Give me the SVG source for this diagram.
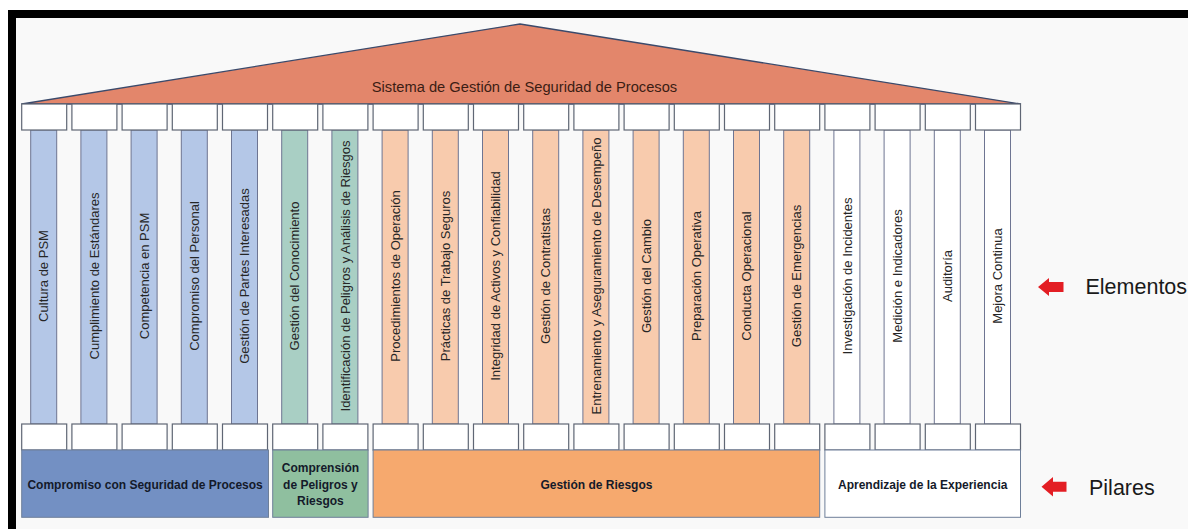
<svg xmlns="http://www.w3.org/2000/svg" width="1188" height="529" viewBox="0 0 1188 529">
<style>
.cap{fill:#ffffff;stroke:#5f6674;stroke-width:1.2}
.shaft{stroke:#6e7592;stroke-width:1}
.sb{fill:#b4c7e7}.sg{fill:#a9cfc4}.so{fill:#f8cbad}.sw{fill:#ffffff}
.ct{font-family:"Liberation Sans",Arial,sans-serif;font-size:13px;fill:#262626;text-anchor:middle}
.base{stroke:#6e7f99;stroke-width:1}
.bt{font-family:"Liberation Sans",Arial,sans-serif;font-size:12px;font-weight:bold;fill:#141a2a;text-anchor:middle}
.lab{font-family:"Liberation Sans",Arial,sans-serif;font-size:21.5px;fill:#1a1a1a}
.arr{fill:#e31e24}
</style>
<rect x="0" y="0" width="1188" height="529" fill="#ffffff"/>
<rect x="16" y="18" width="1172" height="511" fill="#f9f9f9"/>
<rect x="8" y="10" width="1180" height="8" fill="#000000"/>
<rect x="8" y="10" width="8" height="519" fill="#000000"/>

<g id="roof">
<polygon points="21.7,104 520,24 1020.5,104" fill="#e3866b" stroke="#3b4a6b" stroke-width="1.3" stroke-linejoin="round"/>
<text x="524.5" y="91.5" font-family="'Liberation Sans',Arial,sans-serif" font-size="14.7" fill="#3b1d14" text-anchor="middle">Sistema de Gestión de Seguridad de Procesos</text>
</g>

<g id="col-0"><rect class="shaft sb" x="30.7" y="130" width="26" height="294"/><rect class="cap" x="21.7" y="104" width="45" height="26"/><rect class="cap" x="21.7" y="424" width="45" height="26"/><text class="ct" transform="translate(48.4,276) rotate(-90)">Cultura de PSM</text></g>
<g id="col-1"><rect class="shaft sb" x="80.9" y="130" width="26" height="294"/><rect class="cap" x="71.9" y="104" width="45" height="26"/><rect class="cap" x="71.9" y="424" width="45" height="26"/><text class="ct" transform="translate(98.6,276) rotate(-90)">Cumplimiento de Estándares</text></g>
<g id="col-2"><rect class="shaft sb" x="131.1" y="130" width="26" height="294"/><rect class="cap" x="122.1" y="104" width="45" height="26"/><rect class="cap" x="122.1" y="424" width="45" height="26"/><text class="ct" transform="translate(148.8,276) rotate(-90)">Competencia en PSM</text></g>
<g id="col-3"><rect class="shaft sb" x="181.3" y="130" width="26" height="294"/><rect class="cap" x="172.3" y="104" width="45" height="26"/><rect class="cap" x="172.3" y="424" width="45" height="26"/><text class="ct" transform="translate(199,276) rotate(-90)">Compromiso del Personal</text></g>
<g id="col-4"><rect class="shaft sb" x="231.5" y="130" width="26" height="294"/><rect class="cap" x="222.5" y="104" width="45" height="26"/><rect class="cap" x="222.5" y="424" width="45" height="26"/><text class="ct" transform="translate(249.2,276) rotate(-90)">Gestión de Partes Interesadas</text></g>
<g id="col-5"><rect class="shaft sg" x="281.7" y="130" width="26" height="294"/><rect class="cap" x="272.7" y="104" width="45" height="26"/><rect class="cap" x="272.7" y="424" width="45" height="26"/><text class="ct" transform="translate(299.4,276) rotate(-90)">Gestión del Conocimiento</text></g>
<g id="col-6"><rect class="shaft sg" x="331.9" y="130" width="26" height="294"/><rect class="cap" x="322.9" y="104" width="45" height="26"/><rect class="cap" x="322.9" y="424" width="45" height="26"/><text class="ct" transform="translate(349.6,276) rotate(-90)">Identificación de Peligros y Análisis de Riesgos</text></g>
<g id="col-7"><rect class="shaft so" x="382.1" y="130" width="26" height="294"/><rect class="cap" x="373.1" y="104" width="45" height="26"/><rect class="cap" x="373.1" y="424" width="45" height="26"/><text class="ct" transform="translate(399.8,276) rotate(-90)">Procedimientos de Operación</text></g>
<g id="col-8"><rect class="shaft so" x="432.3" y="130" width="26" height="294"/><rect class="cap" x="423.3" y="104" width="45" height="26"/><rect class="cap" x="423.3" y="424" width="45" height="26"/><text class="ct" transform="translate(450,276) rotate(-90)">Prácticas de Trabajo Seguros</text></g>
<g id="col-9"><rect class="shaft so" x="482.5" y="130" width="26" height="294"/><rect class="cap" x="473.5" y="104" width="45" height="26"/><rect class="cap" x="473.5" y="424" width="45" height="26"/><text class="ct" transform="translate(500.2,276) rotate(-90)">Integridad de Activos y Confiabilidad</text></g>
<g id="col-10"><rect class="shaft so" x="532.7" y="130" width="26" height="294"/><rect class="cap" x="523.7" y="104" width="45" height="26"/><rect class="cap" x="523.7" y="424" width="45" height="26"/><text class="ct" transform="translate(550.4,276) rotate(-90)">Gestión de Contratistas</text></g>
<g id="col-11"><rect class="shaft so" x="582.9" y="130" width="26" height="294"/><rect class="cap" x="573.9" y="104" width="45" height="26"/><rect class="cap" x="573.9" y="424" width="45" height="26"/><text class="ct" transform="translate(600.6,276) rotate(-90)">Entrenamiento y Aseguramiento de Desempeño</text></g>
<g id="col-12"><rect class="shaft so" x="633.1" y="130" width="26" height="294"/><rect class="cap" x="624.1" y="104" width="45" height="26"/><rect class="cap" x="624.1" y="424" width="45" height="26"/><text class="ct" transform="translate(650.8,276) rotate(-90)">Gestión del Cambio</text></g>
<g id="col-13"><rect class="shaft so" x="683.3" y="130" width="26" height="294"/><rect class="cap" x="674.3" y="104" width="45" height="26"/><rect class="cap" x="674.3" y="424" width="45" height="26"/><text class="ct" transform="translate(701,276) rotate(-90)">Preparación Operativa</text></g>
<g id="col-14"><rect class="shaft so" x="733.5" y="130" width="26" height="294"/><rect class="cap" x="724.5" y="104" width="45" height="26"/><rect class="cap" x="724.5" y="424" width="45" height="26"/><text class="ct" transform="translate(751.2,276) rotate(-90)">Conducta Operacional</text></g>
<g id="col-15"><rect class="shaft so" x="783.7" y="130" width="26" height="294"/><rect class="cap" x="774.7" y="104" width="45" height="26"/><rect class="cap" x="774.7" y="424" width="45" height="26"/><text class="ct" transform="translate(801.4,276) rotate(-90)">Gestión de Emergencias</text></g>
<g id="col-16"><rect class="shaft sw" x="833.9" y="130" width="26" height="294"/><rect class="cap" x="824.9" y="104" width="45" height="26"/><rect class="cap" x="824.9" y="424" width="45" height="26"/><text class="ct" transform="translate(851.6,276) rotate(-90)">Investigación de Incidentes</text></g>
<g id="col-17"><rect class="shaft sw" x="884.1" y="130" width="26" height="294"/><rect class="cap" x="875.1" y="104" width="45" height="26"/><rect class="cap" x="875.1" y="424" width="45" height="26"/><text class="ct" transform="translate(901.8,276) rotate(-90)">Medición e Indicadores</text></g>
<g id="col-18"><rect class="shaft sw" x="934.3" y="130" width="26" height="294"/><rect class="cap" x="925.3" y="104" width="45" height="26"/><rect class="cap" x="925.3" y="424" width="45" height="26"/><text class="ct" transform="translate(952,276) rotate(-90)">Auditoría</text></g>
<g id="col-19"><rect class="shaft sw" x="984.5" y="130" width="26" height="294"/><rect class="cap" x="975.5" y="104" width="45" height="26"/><rect class="cap" x="975.5" y="424" width="45" height="26"/><text class="ct" transform="translate(1002.2,276) rotate(-90)">Mejora Continua</text></g>

<g id="pillar-compromiso"><rect class="base" x="21.7" y="450" width="246.8" height="67.3" fill="#7390c3"/><text class="bt" x="145.1" y="489">Compromiso con Seguridad de Procesos</text></g>
<g id="pillar-comprension"><rect class="base" x="272.7" y="450" width="95.4" height="67.3" fill="#8fbf9f"/><text class="bt" x="320.4" y="472">Comprensión</text><text class="bt" x="320.4" y="488.5">de Peligros y</text><text class="bt" x="320.4" y="505">Riesgos</text></g>
<g id="pillar-riesgos"><rect class="base" x="373.1" y="450" width="446.6" height="67.3" fill="#f6a96e"/><text class="bt" x="596.4" y="489">Gestión de Riesgos</text></g>
<g id="pillar-aprendizaje"><rect class="base" x="824.9" y="450" width="195.6" height="67.3" fill="#ffffff"/><text class="bt" x="922.7" y="489">Aprendizaje de la Experiencia</text></g>

<g id="label-elementos"><text class="lab" x="1085.5" y="294">Elementos</text></g>
<g id="label-pilares"><text class="lab" x="1089" y="495">Pilares</text></g>

<g id="connectors">
<polygon class="arr" points="1038,287 1049,278 1049,282 1063.5,282 1063.5,292 1049,292 1049,296"/>
<polygon class="arr" points="1041.5,486.7 1053,477 1053,481.7 1066.5,481.7 1066.5,491.7 1053,491.7 1053,496.5"/>
</g>
</svg>
